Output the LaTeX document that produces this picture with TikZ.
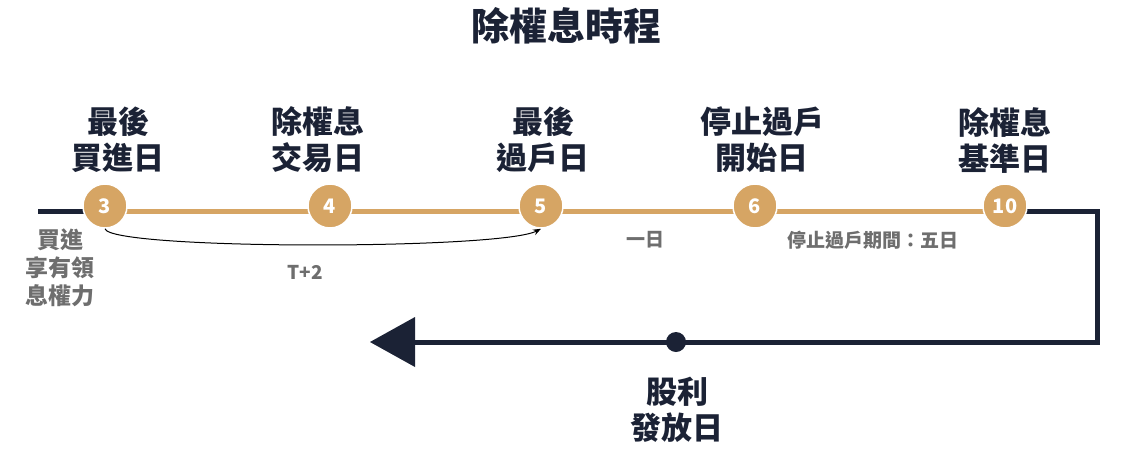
\documentclass[tikz,border=0pt]{standalone}
\usepackage{fontspec}
\setmainfont{Noto Sans CJK TC}
\usetikzlibrary{arrows.meta}
\definecolor{navy}{HTML}{1B2235}
\definecolor{gold}{HTML}{D6A564}
\definecolor{txtgray}{HTML}{6E6E6E}
\tikzset{
 day/.style={circle,fill=gold,draw=white,line width=1.5pt,minimum size=44pt,inner sep=0pt,text=white,font=\fontsize{20}{22}\selectfont\bfseries},
 lab/.style={align=center,text=navy,font=\fontsize{31}{36}\selectfont\bfseries},
 note/.style={align=center,text=txtgray,font=\fontsize{19}{24}\selectfont\bfseries},
}
\begin{document}
\begin{tikzpicture}[x=1pt,y=-1pt]
\useasboundingbox (0,0) rectangle (1124,453);
\node[text=navy,font=\fontsize{38}{40}\selectfont\bfseries] (title) at (566,26) {除權息時程};
\coordinate (L) at (38,211);
\coordinate (R) at (1097,211);
\coordinate (RB) at (1097,342);
\coordinate (tip) at (370,342);
\draw[navy,line width=5pt] (L) -- (100,211);
\draw[navy,line width=5pt] (1000,211) -- (R) -- (RB) -- (405,342);
\fill[navy] (tip) -- (415,317) -- (415,367) -- cycle;
\draw[gold,line width=5pt] (100,211) -- (1005,211);
\node[day] (d3) at (105,206) {3};
\node[day] (d4) at (330,206) {4};
\node[day] (d5) at (541,206) {5};
\node[day] (d6) at (755,206) {6};
\node[day] (d10) at (1005,206) {10};
\node[lab] (l3) at (118,140) {最後\\買進日};
\node[lab] (l4) at (318,140) {除權息\\交易日};
\node[lab] (l5) at (543,140) {最後\\過戶日};
\node[lab] (l6) at (762,140) {停止過戶\\開始日};
\node[lab] (l10) at (1005,140) {除權息\\基準日};
\node[circle,fill=navy,minimum size=20pt,inner sep=0pt] (pay) at (676,342) {};
\node[lab] (lpay) at (677,410) {股利\\發放日};
\draw[-{Stealth[length=8pt]},line width=1pt,black] (d3.south) .. controls (110,250) and (500,250) .. (d5.south);
\node[note] (t2) at (305,272) {T+2};
\node[note] (one) at (645,240) {一日};
\node[note] (stop) at (873,240) {停止過戶期間：五日};
\node[note,font=\fontsize{23}{28}\selectfont\bfseries] (own) at (60,268) {買進\\享有領\\息權力};
\end{tikzpicture}
\end{document}
